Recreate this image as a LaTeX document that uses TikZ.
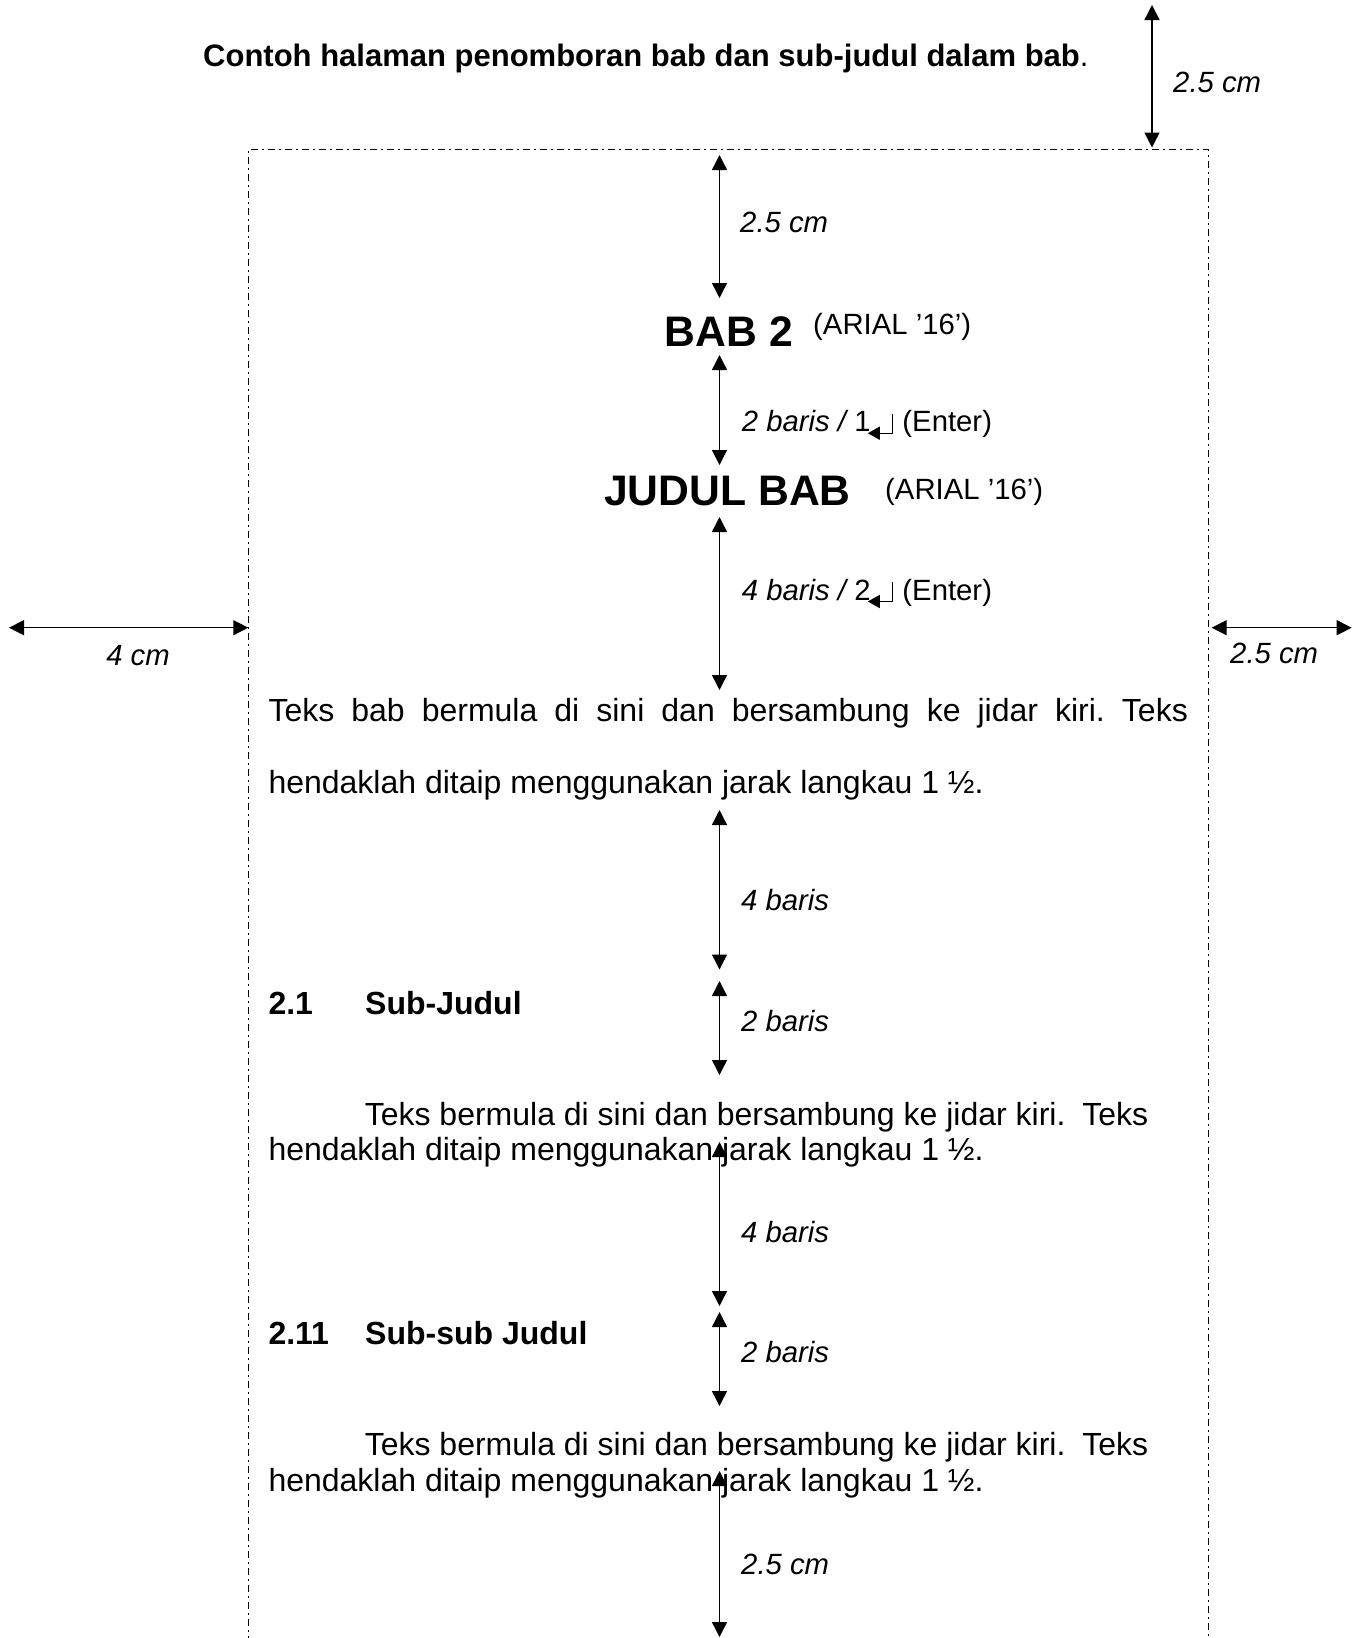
\documentclass[tikz,border=0pt]{standalone}
\usepackage{fontspec}
\setmainfont{Liberation Sans}
\usetikzlibrary{arrows.meta,calc}
\begin{document}
\frenchspacing
\begin{tikzpicture}[x=1pt,y=-1pt,
  dim/.style={line width=1.4pt,{Triangle[length=15pt,width=15pt]}-{Triangle[length=15pt,width=15pt]}},
  body/.style={font=\fontsize{32}{38}\selectfont, inner sep=0pt, anchor=base west},
  head/.style={font=\fontsize{32}{38}\selectfont\bfseries, inner sep=0pt, anchor=base west},
  ttl/.style={font=\fontsize{31}{37}\selectfont\bfseries, inner sep=0pt, anchor=base west},
  lbl/.style={font=\fontsize{29.3}{35}\selectfont\itshape, inner sep=0pt, anchor=base west},
  note/.style={font=\fontsize{29.3}{35}\selectfont, inner sep=0pt, anchor=base west},
  big/.style={font=\fontsize{42.7}{50}\selectfont\bfseries, inner sep=0pt, anchor=base},
  border/.style={line width=1.5pt, dash pattern=on 7pt off 4pt on 2pt off 4pt},
  enter/.style={line width=1.4pt,-{Triangle[length=12pt,width=13pt]}},
]
\useasboundingbox (0,0) rectangle (1359,1638);

% title
\node[ttl] (title) at (203,66) {Contoh halaman penomboran bab dan sub-judul dalam bab\textmd{.}};

% page border
\coordinate (bl) at (248.5,1660);
\coordinate (tl) at (248.5,149.5);
\coordinate (tr) at (1208.5,149.5);
\coordinate (br) at (1208.5,1660);
\draw[border] (bl) -- (tl) -- (tr) -- (br);

% top margin arrow
\coordinate (t0) at (1152,5);
\coordinate (t1) at (1152,147.5);
\draw[dim] (t0) -- (t1);
\node[lbl] (tlab) at (1173,92) {2.5 cm};

% side margin arrows
\coordinate (lm0) at (9,627.7);
\coordinate (lm1) at (248.3,627.7);
\draw[dim] (lm0) -- (lm1);
\node[lbl,anchor=base] (lmlab) at (138,665) {4 cm};
\coordinate (rm0) at (1211.7,627.7);
\coordinate (rm1) at (1351.7,627.7);
\draw[dim] (rm0) -- (rm1);
\node[lbl] (rmlab) at (1230,663) {2.5 cm};

% headings
\node[big] (bab) at (729,346.5) {BAB 2};
\node[note] (babnote) at (813,334.7) {(ARIAL ’16’)};
\node[big] (judul) at (727.5,505) {JUDUL BAB};
\node[note] (judulnote) at (885,499.5) {(ARIAL ’16’)};

% vertical arrows
\coordinate (a1t) at (719.5,155); \coordinate (a1b) at (719.5,298);
\coordinate (a2t) at (719.5,355); \coordinate (a2b) at (719.5,465);
\coordinate (a3t) at (719.5,517); \coordinate (a3b) at (719.5,690);
\coordinate (a4t) at (719.5,810); \coordinate (a4b) at (719.5,969.5);
\coordinate (a5t) at (719.5,981); \coordinate (a5b) at (719.5,1075);
\coordinate (a6t) at (719.5,1142); \coordinate (a6b) at (719.5,1306);
\coordinate (a7t) at (719.5,1312); \coordinate (a7b) at (719.5,1406);
\coordinate (a8t) at (719.5,1471); \coordinate (a8b) at (719.5,1637);
\foreach \i in {1,...,8}{\draw[dim] (a\i t) -- (a\i b);}

% labels
\node[lbl] (l1) at (740,232.5) {2.5 cm};
\node[note] (l2) at (741.7,431.7) {{\itshape 2 baris /} 1};
\draw[enter] ($(l2.base east)+(21.5,-18)$) |- ($(l2.base east)+(-3,1.5)$);
\node[note] (l2e) at ($(l2.base east)+(31.5,0)$) {(Enter)};
\node[lbl] (l3) at (741.7,600) {4 baris /\upshape{} 2};
\draw[enter] ($(l3.base east)+(21.5,-18)$) |- ($(l3.base east)+(-3,1.5)$);
\node[note] (l3e) at ($(l3.base east)+(31.5,0)$) {(Enter)};
\node[lbl] (l4) at (741,910.5) {4 baris};
\node[lbl] (l5) at (741,1031) {2 baris};
\node[lbl] (l6) at (741,1242) {4 baris};
\node[lbl] (l7) at (741,1362) {2 baris};
\node[lbl] (l8) at (741,1574) {2.5 cm};

% paragraph 1
\node[body] (p1a) at (268.3,721) {\makebox[919.4pt][s]{Teks bab bermula di sini dan bersambung ke jidar kiri. Teks}};
\node[body] (p1b) at (268.3,793.5) {hendaklah ditaip menggunakan jarak langkau 1 ½.};

% sub heading 1
\node[head] (h1n) at (268.3,1014) {2.1};
\node[head] (h1) at (365,1014) {Sub-Judul};
\node[body] (p2a) at (364.6,1125) {Teks bermula di sini dan bersambung ke jidar kiri.\hspace{8pt} Teks};
\node[body] (p2b) at (268.3,1160) {hendaklah ditaip menggunakan jarak langkau 1 ½.};

% sub heading 2
\node[head] (h2n) at (268.3,1344) {2.11};
\node[head] (h2) at (365,1344) {Sub-sub Judul};
\node[body] (p3a) at (364.6,1455.5) {Teks bermula di sini dan bersambung ke jidar kiri.\hspace{8pt} Teks};
\node[body] (p3b) at (268.3,1491) {hendaklah ditaip menggunakan jarak langkau 1 ½.};
\end{tikzpicture}
\end{document}
